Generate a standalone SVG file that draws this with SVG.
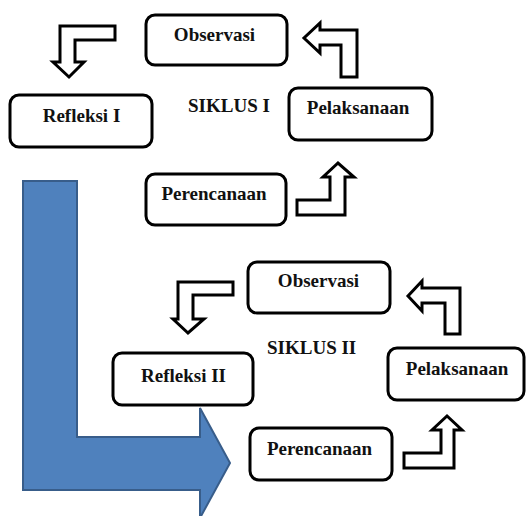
<svg xmlns="http://www.w3.org/2000/svg" width="526" height="516" viewBox="0 0 526 516">
<style>
.box{fill:#fff;stroke:#000;stroke-width:3}
.t{font-family:"Liberation Serif","Times New Roman",serif;font-weight:bold;font-size:19px;fill:#111;text-anchor:middle}
.lbl{font-family:"Liberation Serif","Times New Roman",serif;font-weight:bold;font-size:19px;fill:#111}
.ar{fill:#fff;stroke:#000;stroke-width:3;stroke-linejoin:miter}
</style>
<rect width="526" height="516" fill="#fff"/>
<g id="connectors">
<polygon id="big-arrow" points="23,181 77,181 77,437 200,437 200,408 230,463 200,518 200,490 23,490" fill="#4F81BD" stroke="#385D8A" stroke-width="2"/>
<polygon class="ar" points="60,26 115,26 115,40 75,40 75,62 84,62 69,77 53,62 60,62"/>
<polygon class="ar" points="357,77 357,30 320,30 320,23 304,38 320,53 320,45 341,45 341,77"/>
<polygon class="ar" points="297,200 330,200 330,177 323,177 338,163 354,177 345,177 345,215 297,215"/>
<polygon class="ar" points="178,282 233,282 233,295 193,295 193,319 204,319 188,333 173,319 178,319"/>
<polygon class="ar" points="460,334 460,288 422,288 422,281 408,296 422,311 422,303 445,303 445,334"/>
<polygon class="ar" points="404,453 441,453 441,430 432,430 447,416 462,430 454,430 454,468 404,468"/>
</g>
<g id="observasi1"><rect class="box" x="146" y="15" width="141" height="50" rx="9"/><text class="t" x="214.5" y="41">Observasi</text></g>
<g id="refleksi1"><rect class="box" x="10" y="95" width="142" height="52" rx="9"/><text class="t" x="81.5" y="122">Refleksi I</text></g>
<g id="pelaksanaan1"><rect class="box" x="289" y="88" width="143" height="52" rx="9"/><text class="t" x="358" y="114">Pelaksanaan</text></g>
<g id="perencanaan1"><rect class="box" x="146" y="174" width="140" height="51" rx="9"/><text class="t" x="214" y="200">Perencanaan</text></g>
<g id="siklus1"><text class="lbl" x="188" y="112">SIKLUS I</text></g>
<g id="observasi2"><rect class="box" x="248" y="262" width="142" height="51" rx="9"/><text class="t" x="318.5" y="287">Observasi</text></g>
<g id="siklus2"><text class="lbl" x="267" y="354">SIKLUS II</text></g>
<g id="pelaksanaan2"><rect class="box" x="388" y="348" width="136" height="52" rx="9"/><text class="t" x="457" y="375">Pelaksanaan</text></g>
<g id="perencanaan2"><rect class="box" x="250" y="428" width="142" height="52" rx="9"/><text class="t" x="319.5" y="455">Perencanaan</text></g>
<g id="refleksi2"><rect class="box" x="113" y="353" width="140" height="52" rx="9"/><text class="t" x="183.5" y="382">Refleksi II</text></g>
</svg>
